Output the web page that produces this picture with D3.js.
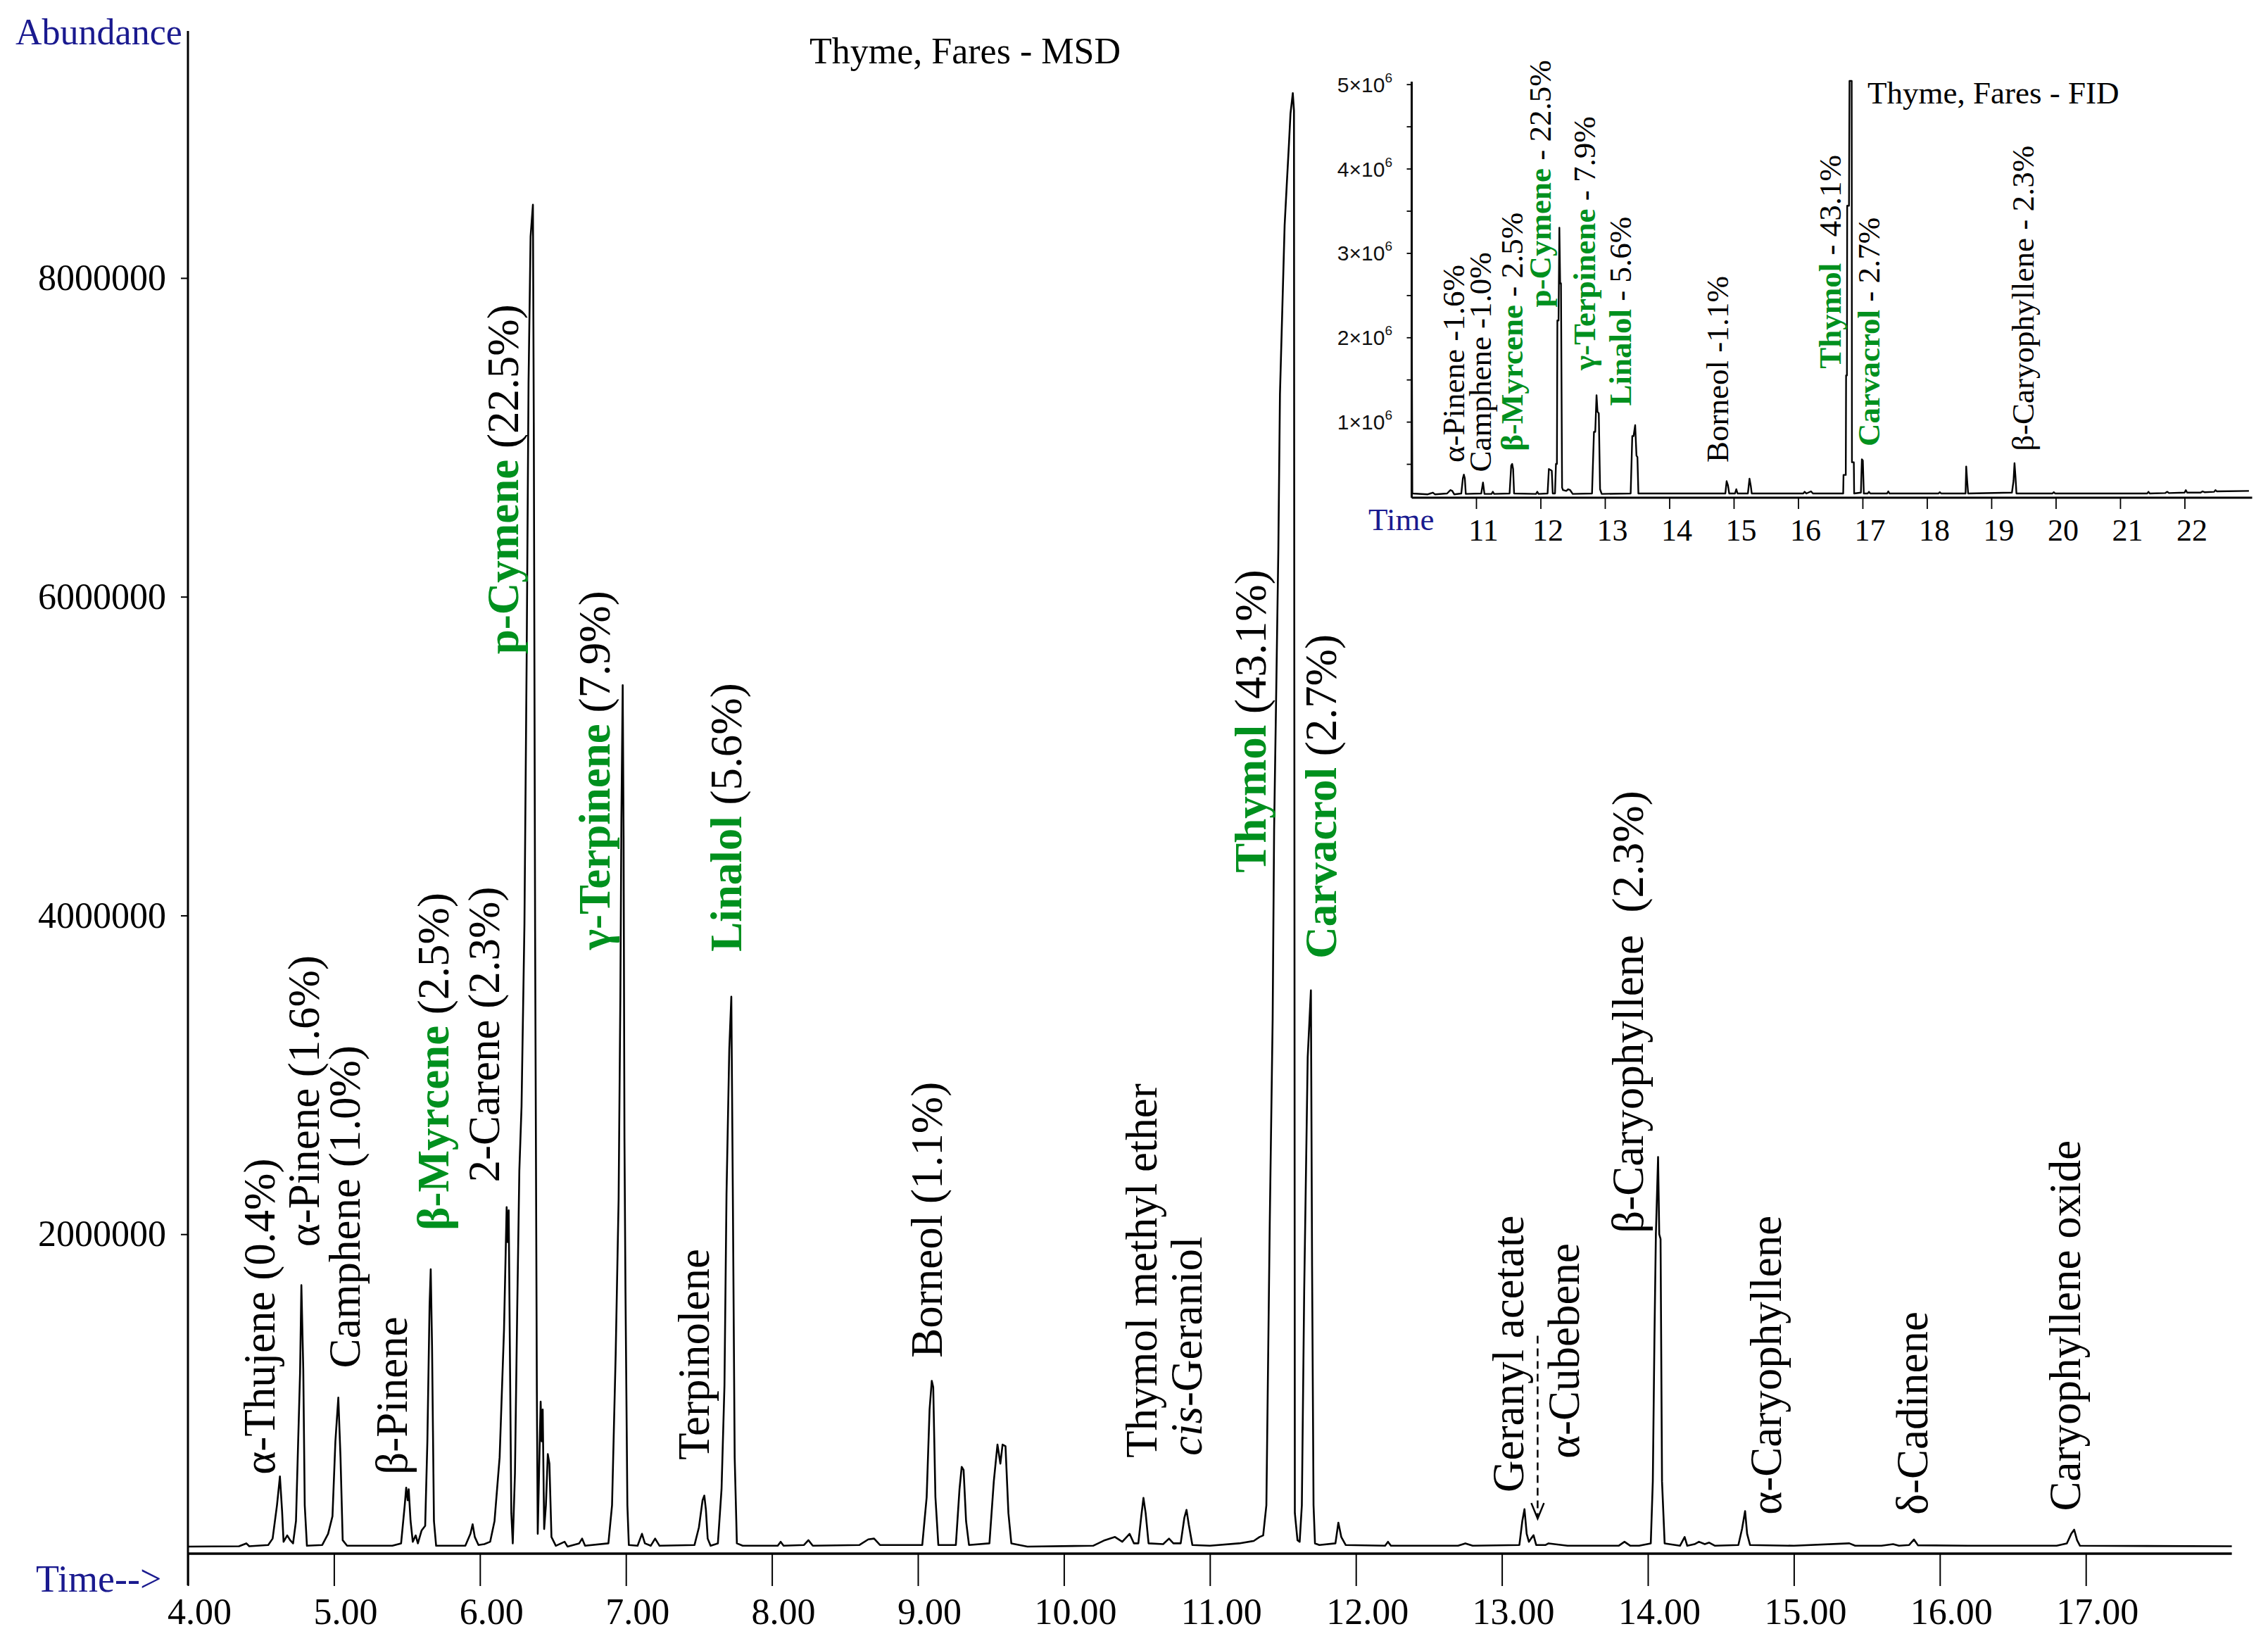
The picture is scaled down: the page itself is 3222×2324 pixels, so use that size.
<!DOCTYPE html>
<html>
<head>
<meta charset="utf-8">
<script src="https://cdn.jsdelivr.net/npm/d3@7"></script>
<style>
  body { margin: 0; background: #fff; }
  text { font-family: "Liberation Serif", "Times New Roman", serif; }
</style>
</head>
<body>
<script>
// MSD chromatogram: [time (min), abundance]
var msdTrace = [
  [4.00, 40000], [4.35, 42000], [4.40, 60000], [4.42, 42000],
  [4.55, 50000], [4.58, 90000], [4.61, 300000], [4.63, 480000], [4.645, 260000], [4.655, 70000],
  [4.68, 110000], [4.70, 80000], [4.72, 60000],
  [4.74, 200000], [4.755, 700000], [4.768, 1130000], [4.777, 1680000], [4.79, 1150000], [4.80, 300000], [4.815, 45000],
  [4.92, 50000], [4.96, 120000],
  [4.99, 230000], [5.01, 700000], [5.03, 975000], [5.045, 600000], [5.06, 80000], [5.09, 45000],
  [5.40, 45000], [5.46, 60000],
  [5.485, 300000], [5.495, 410000], [5.505, 330000], [5.512, 400000], [5.525, 200000], [5.54, 70000],
  [5.56, 110000], [5.575, 60000], [5.60, 140000], [5.625, 170000],
  [5.64, 700000], [5.655, 1550000], [5.663, 1780000], [5.672, 1300000], [5.685, 200000], [5.70, 45000],
  [5.90, 45000], [5.935, 120000], [5.95, 180000], [5.965, 100000], [5.99, 50000], [6.03, 55000], [6.07, 70000],
  [6.10, 200000], [6.135, 600000], [6.165, 1400000], [6.183, 2170000], [6.19, 1950000], [6.197, 2150000],
  [6.205, 1300000], [6.215, 250000], [6.225, 60000],
  [6.24, 500000], [6.255, 1500000], [6.27, 2400000], [6.285, 2800000], [6.305, 3950000], [6.32, 5600000],
  [6.333, 7340000], [6.347, 8260000], [6.363, 8460000], [6.369, 7090000], [6.378, 3900000], [6.39, 1000000], [6.396, 120000],
  [6.405, 500000], [6.416, 950000], [6.423, 700000], [6.43, 900000], [6.44, 150000], [6.452, 300000],
  [6.465, 620000], [6.476, 560000], [6.49, 100000], [6.52, 45000],
  [6.58, 70000], [6.60, 40000], [6.68, 60000], [6.70, 90000], [6.72, 45000],
  [6.88, 60000], [6.905, 300000], [6.93, 1250000], [6.95, 2220000], [6.962, 3500000], [6.969, 4600000],
  [6.978, 5445000], [6.984, 4500000], [6.99, 2600000], [6.997, 1640000], [7.01, 300000], [7.02, 50000],
  [7.08, 45000], [7.11, 120000], [7.13, 60000], [7.17, 45000], [7.20, 90000], [7.23, 45000],
  [7.47, 50000], [7.50, 160000], [7.525, 330000], [7.537, 360000], [7.548, 270000], [7.56, 90000], [7.58, 45000],
  [7.63, 60000], [7.655, 400000], [7.675, 1050000], [7.689, 2250000], [7.708, 3160000], [7.722, 3490000],
  [7.732, 2300000], [7.745, 600000], [7.76, 60000],
  [7.80, 45000], [8.04, 45000], [8.06, 70000], [8.08, 45000], [8.22, 50000], [8.25, 80000], [8.28, 45000],
  [8.60, 50000], [8.66, 85000], [8.70, 90000], [8.74, 50000],
  [9.03, 50000], [9.06, 350000], [9.08, 900000], [9.095, 1080000], [9.105, 1040000], [9.12, 350000], [9.14, 50000],
  [9.26, 50000], [9.285, 400000], [9.30, 540000], [9.313, 520000], [9.33, 200000], [9.35, 50000],
  [9.49, 60000], [9.52, 450000], [9.545, 680000], [9.565, 560000], [9.58, 680000], [9.60, 670000], [9.62, 250000], [9.64, 60000],
  [9.75, 40000], [10.20, 45000], [10.28, 80000], [10.35, 100000], [10.40, 70000], [10.45, 120000], [10.48, 60000],
  [10.51, 60000], [10.53, 230000], [10.545, 345000], [10.56, 250000], [10.58, 60000],
  [10.68, 55000], [10.72, 90000], [10.75, 60000],
  [10.80, 60000], [10.825, 220000], [10.84, 270000], [10.855, 180000], [10.88, 50000],
  [11.00, 45000], [11.20, 60000], [11.30, 75000], [11.34, 100000], [11.365, 110000],
  [11.387, 300000], [11.41, 2060000], [11.43, 3350000], [11.44, 4540000], [11.456, 5500000], [11.469, 6300000],
  [11.48, 7270000], [11.496, 7800000], [11.512, 8330000], [11.528, 8610000], [11.541, 8830000], [11.552, 9030000],
  [11.568, 9160000], [11.576, 9050000], [11.582, 250000], [11.60, 80000], [11.615, 70000], [11.63, 300000],
  [11.646, 1640000], [11.67, 3110000], [11.692, 3530000], [11.70, 1800000], [11.71, 300000], [11.72, 60000],
  [11.75, 50000], [11.86, 60000], [11.88, 190000], [11.90, 100000], [11.93, 50000], [12.20, 45000], [12.22, 70000], [12.24, 45000],
  [12.70, 45000], [12.75, 60000], [12.80, 45000],
  [13.12, 50000], [13.14, 200000], [13.155, 275000], [13.17, 120000], [13.185, 70000], [13.20, 90000], [13.217, 111000], [13.235, 50000],
  [13.30, 50000], [13.32, 60000], [13.45, 45000], [13.55, 45000], [13.80, 45000], [13.84, 70000], [13.88, 45000], [13.94, 45000],
  [14.02, 60000], [14.034, 450000], [14.045, 1340000], [14.055, 2000000], [14.07, 2485000], [14.078, 2000000],
  [14.087, 1970000], [14.097, 450000], [14.115, 60000],
  [14.22, 45000], [14.252, 100000], [14.27, 45000], [14.32, 55000], [14.35, 70000], [14.39, 55000], [14.42, 65000], [14.46, 45000],
  [14.62, 50000], [14.645, 150000], [14.666, 263000], [14.68, 120000], [14.70, 50000],
  [15.00, 45000], [15.38, 60000], [15.42, 45000], [15.60, 45000], [15.68, 55000], [15.72, 45000],
  [15.79, 50000], [15.823, 84000], [15.85, 48000],
  [16.20, 45000], [16.80, 45000],
  [16.87, 60000], [16.90, 120000], [16.92, 146000], [16.94, 80000], [16.96, 45000],
  [18.00, 42000]
];

// FID chromatogram (inset): [time (min), signal]
var fidTrace = [
  [10.00, 2600000], [10.01, 150000], [10.25, 140000], [10.33, 160000], [10.36, 140000],
  [10.55, 150000], [10.60, 190000], [10.63, 180000], [10.66, 140000],
  [10.77, 150000], [10.795, 330000], [10.81, 373000], [10.825, 330000], [10.84, 145000],
  [11.08, 150000], [11.107, 280000], [11.13, 145000], [11.24, 145000], [11.26, 170000], [11.28, 145000],
  [11.52, 150000], [11.545, 480000], [11.56, 500000], [11.575, 440000], [11.59, 150000],
  [11.93, 145000], [11.95, 170000], [11.97, 145000],
  [12.11, 150000], [12.13, 440000], [12.155, 430000], [12.175, 420000], [12.19, 150000], [12.225, 150000],
  [12.24, 500000], [12.255, 500000], [12.262, 2200000], [12.28, 2200000], [12.293, 3300000], [12.305, 2640000],
  [12.318, 2640000], [12.335, 220000], [12.35, 190000], [12.40, 180000], [12.43, 200000], [12.46, 190000], [12.50, 145000],
  [12.80, 150000], [12.83, 880000], [12.85, 880000], [12.87, 1315000], [12.885, 1120000], [12.905, 1100000], [12.925, 200000], [12.95, 145000],
  [13.40, 150000], [13.425, 830000], [13.445, 830000], [13.47, 960000], [13.49, 600000], [13.505, 580000], [13.52, 150000],
  [14.87, 150000], [14.89, 296000], [14.91, 250000], [14.93, 150000], [15.02, 150000], [15.04, 200000], [15.06, 150000],
  [15.22, 150000], [15.245, 325000], [15.265, 240000], [15.28, 150000],
  [16.08, 150000], [16.10, 170000], [16.13, 150000], [16.20, 175000], [16.23, 150000],
  [16.70, 150000], [16.705, 370000], [16.74, 370000], [16.745, 1550000], [16.758, 1550000], [16.762, 3560000],
  [16.79, 3560000], [16.798, 5040000], [16.832, 5040000], [16.836, 520000], [16.865, 520000], [16.87, 150000],
  [16.975, 160000], [16.99, 556000], [17.005, 540000], [17.02, 150000], [17.08, 150000], [17.10, 170000], [17.12, 150000],
  [17.38, 150000], [17.40, 175000], [17.42, 150000], [18.18, 150000], [18.20, 165000], [18.22, 150000],
  [18.60, 150000], [18.61, 470000], [18.625, 300000], [18.64, 150000],
  [19.32, 160000], [19.345, 300000], [19.36, 510000], [19.375, 350000], [19.39, 150000],
  [19.95, 150000], [19.97, 165000], [19.99, 150000],
  [21.42, 150000], [21.44, 170000], [21.46, 150000], [21.70, 155000], [21.73, 170000], [21.76, 155000],
  [22.00, 160000], [22.02, 190000], [22.04, 160000], [22.25, 160000], [22.28, 175000], [22.31, 165000],
  [22.46, 170000], [22.48, 190000], [22.50, 175000], [23.00, 180000]
];

// peak labels, main chart
var msdNames = ["α-Thujene", "α-Pinene", "Camphene", "β-Pinene", "β-Myrcene", "2-Carene", "p-Cymene",
  "γ-Terpinene", "Terpinolene", "Linalol", "Borneol", "Thymol methyl ether", "cis-Geraniol", "Thymol",
  "Carvacrol", "Geranyl acetate", "α-Cubebene", "β-Caryophyllene", "α-Caryophyllene", "δ-Cadinene",
  "Caryophyllene oxide"];
var msdPct = [" (0.4%)", " (1.6%)", " (1.0%)", "", " (2.5%)", " (2.3%)", " (22.5%)", " (7.9%)", "", " (5.6%)",
  " (1.1%)", "", "", " (43.1%)", " (2.7%)", "", "", "  (2.3%)", "", "", ""];
// where each label starts, in [time, abundance]
var msdLabelAt = [[4.492, 491000], [4.796, 1920000], [5.073, 1160000], [5.40, 491000], [5.683, 2024000],
  [6.028, 2326000], [6.16, 5640000], [6.789, 3784000], [7.467, 583000], [7.689, 3773000], [9.063, 1225000],
  [10.533, 596000], [10.84, 610000], [11.279, 4268000], [11.761, 3729000], [13.045, 380000], [13.424, 592000],
  [13.865, 2006000], [14.811, 240000], [15.812, 240000], [16.857, 263000]];

// peak labels, inset
var fidNames = ["α-Pinene", "Camphene", "β-Myrcene", "p-Cymene", "γ-Terpinene", "Linalol", "Borneol",
  "Thymol", "Carvacrol", "β-Caryophyllene"];
var fidPct = [" -1.6%", " -1.0%", " - 2.5%", " - 22.5%", " - 7.9%", " - 5.6%", " -1.1%", " - 43.1%", " - 2.7%", " - 2.3%"];
var fidLabelAt = [[10.654, 517000], [11.066, 404000], [11.557, 652000], [11.995, 2357000], [12.678, 1610000],
  [13.239, 1189000], [14.749, 517000], [16.497, 1629000], [17.098, 709000], [19.497, 652000]];

var keyCompounds = ["β-Myrcene", "p-Cymene", "γ-Terpinene", "Linalol", "Thymol", "Carvacrol"];

var msdTicksY = [2000000, 4000000, 6000000, 8000000];
var fidTicksY = [1, 2, 3, 4, 5];

var green = "#00901e", navy = "#1a1a8f";

var svg = d3.select("body").append("svg")
  .attr("width", 3222)
  .attr("height", 2324)
  .style("display", "block")
  .style("background", "#fff");

// ---------- main chart ----------
var x = d3.scaleLinear().domain([4, 18]).range([267, 3170.6]);
var y = d3.scaleLinear().domain([0, 9.55e6]).range([2206, 44]);

var gx = svg.append("g").attr("transform", "translate(0,2207)");
gx.call(d3.axisBottom(x).tickValues(d3.range(4, 17.9, 0.2)).tickSize(23).tickFormat(""));
gx.call(d3.axisBottom(x).tickValues(d3.range(4, 17.5, 1)).tickSize(46).tickPadding(17).tickFormat(d3.format(".2f")));
gx.selectAll("path.domain").remove();
gx.selectAll("line").attr("stroke", "#000").attr("stroke-width", 2);
gx.selectAll("text").attr("font-size", 52).attr("dx", 16)
  .style("font-family", "Liberation Serif, Times New Roman, serif").attr("fill", "#000");
gx.append("line").attr("x1", x(4)).attr("x2", x(18)).attr("stroke", "#000").attr("stroke-width", 3.5);

var gy = svg.append("g").attr("transform", "translate(267,0)");
gy.call(d3.axisLeft(y).tickValues(d3.range(400000, 9.5e6, 400000)).tickSize(6).tickFormat(""));
gy.call(d3.axisLeft(y).tickValues(msdTicksY).tickSize(10).tickPadding(21).tickFormat(d3.format("d")));
gy.selectAll("path.domain").remove();
gy.selectAll("line").attr("stroke", "#000").attr("stroke-width", 2);
gy.selectAll("text").attr("font-size", 52)
  .style("font-family", "Liberation Serif, Times New Roman, serif").attr("fill", "#000");
gy.append("line").attr("y1", y(0) + 46).attr("y2", y(9.55e6)).attr("stroke", "#000").attr("stroke-width", 3);

var line = d3.line().x(function(d) { return x(d[0]); }).y(function(d) { return y(d[1]); });
svg.append("path").datum(msdTrace)
  .attr("d", line)
  .attr("fill", "none")
  .attr("stroke", "#000")
  .attr("stroke-width", 2.6)
  .attr("stroke-linejoin", "round");

svg.append("text").attr("x", 22).attr("y", 63).attr("font-size", 52).attr("fill", navy).text("Abundance");
svg.append("text").attr("x", 51).attr("y", 2261).attr("font-size", 54).attr("fill", navy).text("Time-->");
svg.append("text").attr("x", 1150).attr("y", 90).attr("font-size", 52).attr("fill", "#000").text("Thyme, Fares - MSD");

// rotated labels, name in bold green for the main compounds
function addLabel(g, name, pct, px, py, size) {
  var t = g.append("text")
    .attr("transform", "translate(" + px + "," + py + ") rotate(-90)")
    .attr("font-size", size)
    .attr("dominant-baseline", "central")
    .style("white-space", "pre");
  var key = keyCompounds.indexOf(name) >= 0;
  if (name.indexOf("cis-") === 0) {
    t.append("tspan").attr("font-style", "italic").text("cis");
    t.append("tspan").text(name.slice(3));
  } else {
    t.append("tspan")
      .attr("fill", key ? green : "#000")
      .attr("font-weight", key ? "bold" : "normal")
      .text(name);
  }
  if (pct) t.append("tspan").attr("fill", "#000").text(pct);
}

msdNames.forEach(function(n, i) {
  addLabel(svg, n, msdPct[i], x(msdLabelAt[i][0]), y(msdLabelAt[i][1]), 63);
});

// dashed pointer for alpha-cubebene
var ax = x(13.245), ay1 = y(1363000), ay2 = y(216000);
svg.append("line").attr("x1", ax).attr("x2", ax).attr("y1", ay1).attr("y2", ay2)
  .attr("stroke", "#000").attr("stroke-width", 2.5).attr("stroke-dasharray", "11,7");
svg.append("path")
  .attr("d", "M" + (ax - 9) + "," + (ay2 - 22) + "L" + ax + "," + ay2 + "L" + (ax + 9) + "," + (ay2 - 22))
  .attr("fill", "none").attr("stroke", "#000").attr("stroke-width", 2.5);

// ---------- inset (FID) ----------
var xi = d3.scaleLinear().domain([10, 23.05]).range([2005.5, 3199.5]);
var yi = d3.scaleLinear().domain([100000, 5000000]).range([707, 119.7]);

var ix = svg.append("g").attr("transform", "translate(0,707)");
ix.call(d3.axisBottom(xi).tickValues(d3.range(10, 23.01, 0.1)).tickSize(8).tickFormat(""));
ix.call(d3.axisBottom(xi).tickValues(d3.range(11, 22.5, 1)).tickSize(16).tickPadding(14).tickFormat(d3.format("d")));
ix.selectAll("path.domain").remove();
ix.selectAll("line").attr("stroke", "#000").attr("stroke-width", 1.8);
ix.selectAll("text").attr("font-size", 44).attr("dx", 10)
  .style("font-family", "Liberation Serif, Times New Roman, serif").attr("fill", "#000");
ix.append("line").attr("x1", xi(10)).attr("x2", xi(23.05)).attr("stroke", "#000").attr("stroke-width", 3);

var iy = svg.append("g").attr("transform", "translate(2005.5,0)");
iy.call(d3.axisLeft(yi).tickValues(d3.range(500000, 5000001, 500000)).tickSize(7).tickFormat(""));
iy.selectAll("path.domain").remove();
iy.selectAll("line").attr("stroke", "#000").attr("stroke-width", 1.8);
iy.append("line").attr("y1", 707).attr("y2", yi(5030000)).attr("stroke", "#000").attr("stroke-width", 3);

var ylab = svg.append("g").selectAll("text").data(fidTicksY).join("text")
  .attr("x", 1978)
  .attr("y", function(d) { return yi(d * 1e6); })
  .attr("text-anchor", "end")
  .attr("dominant-baseline", "central")
  .attr("font-size", 30)
  .style("font-family", "Liberation Sans, Arial, sans-serif")
  .attr("fill", "#111");
ylab.append("tspan").text(function(d) { return d + "×10"; });
ylab.append("tspan").attr("font-size", 19).attr("dy", -10).text("6");

var iline = d3.line().x(function(d) { return xi(d[0]); }).y(function(d) { return yi(d[1]); });
svg.append("path").datum(fidTrace)
  .attr("d", iline)
  .attr("fill", "none")
  .attr("stroke", "#000")
  .attr("stroke-width", 2.4)
  .attr("stroke-linejoin", "round");

svg.append("text").attr("x", 1944).attr("y", 753).attr("font-size", 45).attr("fill", navy).text("Time");
svg.append("text").attr("x", 2653).attr("y", 147).attr("font-size", 45).attr("fill", "#000").text("Thyme, Fares - FID");

fidNames.forEach(function(n, i) {
  addLabel(svg, n, fidPct[i], xi(fidLabelAt[i][0]), yi(fidLabelAt[i][1]), 45);
});
</script>
</body>
</html>
